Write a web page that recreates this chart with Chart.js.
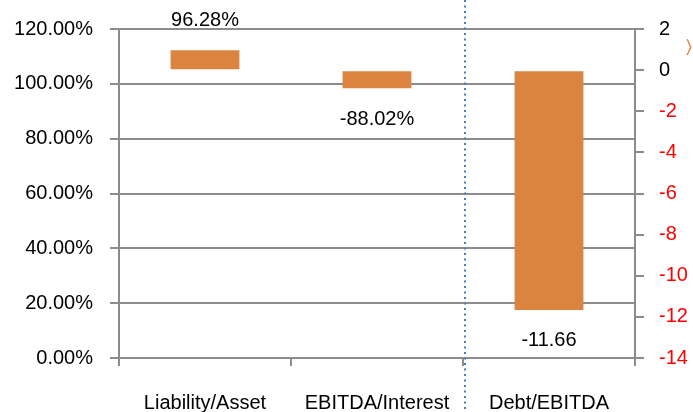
<!DOCTYPE html>
<html>
<head>
<meta charset="utf-8">
<script src="https://cdn.jsdelivr.net/npm/chart.js@4.4.0/dist/chart.umd.min.js"></script>
<style>
  html, body { margin: 0; padding: 0; background: #fff; }
  #wrap { width: 693px; height: 412px; }
</style>
</head>
<body>
<div id="wrap"><canvas id="ratioChart" width="693" height="412"></canvas></div>
<script>
// Kennzahlen (rechte Achse), linke Achse ist nur Prozentskala
const categories = ["Liability/Asset", "EBITDA/Interest", "Debt/EBITDA"];
const ratioValues = [0.9628, -0.8802, -11.66];
const valueLabels = ["96.28%", "-88.02%", "-11.66"];
const leftTicks = [0, 20, 40, 60, 80, 100, 120];
const rightTicks = [-14, -12, -10, -8, -6, -4, -2, 0, 2];

const FONT = "'Liberation Sans', Arial, sans-serif";
const GRID = "#8c8c8c";

// Datenbeschriftungen + gepunktete Trennlinie
const extrasPlugin = {
    id: "extras",
    afterDatasetsDraw(chart) {
        const ctx = chart.ctx;
        const meta = chart.getDatasetMeta(0);
        ctx.save();
        ctx.font = "20px " + FONT;
        ctx.fillStyle = "#000";
        ctx.textAlign = "center";
        ctx.textBaseline = "middle";
        meta.data.forEach((bar, i) => {
            const v = ratioValues[i];
            const y = v >= 0 ? bar.y - 30 : bar.y + 31;
            ctx.fillText(valueLabels[i], bar.x, y);
        });

        // vertikale Linie zwischen 2. und 3. Kategorie
        const xs = chart.scales.x;
        const xLine = Math.round((xs.getPixelForValue(1) + xs.getPixelForValue(2)) / 2) + 2;
        ctx.strokeStyle = "#4a7ebb";
        ctx.lineWidth = 2;
        ctx.setLineDash([2, 3.5]);
        ctx.beginPath();
        ctx.moveTo(xLine, 0);
        ctx.lineTo(xLine, chart.height);
        ctx.stroke();
        ctx.setLineDash([]);

        // abgeschnittene Legendenmarke am rechten Rand
        ctx.fillStyle = "#e07b39";
        ctx.font = "18px " + FONT;
        ctx.textAlign = "left";
        ctx.fillText("\u232A", 686, 48);
        ctx.restore();
    }
};

const ctx = document.getElementById("ratioChart").getContext("2d");
const ratioChart = new Chart(ctx, {
    type: "bar",
    data: {
        labels: categories,
        datasets: [{
            data: ratioValues,
            yAxisID: "y1",
            backgroundColor: "#db843f",
            borderWidth: 0,
            categoryPercentage: 1,
            barPercentage: 0.4
        }]
    },
    options: {
        responsive: false,
        animation: false,
        layout: { padding: { top: 28, left: 0, right: 0, bottom: 0 } },
        plugins: {
            legend: { display: false },
            tooltip: { enabled: false }
        },
        scales: {
            x: {
                grid: {
                    offset: true,
                    drawOnChartArea: false,
                    color: GRID,
                    lineWidth: 2,
                    tickLength: 8
                },
                border: { display: false },
                ticks: {
                    color: "#000",
                    padding: 25,
                    font: { family: FONT, size: 20 },
                    maxRotation: 0
                },
                afterFit(scale) { scale.height = 54; }
            },
            y: {
                position: "left",
                min: 0,
                max: 120,
                afterBuildTicks(scale) { scale.ticks = leftTicks.map(v => ({ value: v })); },
                grid: { color: GRID, lineWidth: 2, tickLength: 9 },
                border: { color: GRID, width: 2 },
                ticks: {
                    color: "#000",
                    padding: 17,
                    font: { family: FONT, size: 20 },
                    callback: v => v.toFixed(2) + "%"
                },
                afterFit(scale) { scale.width = 119; }
            },
            y1: {
                position: "right",
                min: -14,
                max: 2,
                afterBuildTicks(scale) { scale.ticks = rightTicks.map(v => ({ value: v })); },
                grid: { drawOnChartArea: false, color: GRID, lineWidth: 2, tickLength: 9 },
                border: { color: GRID, width: 2 },
                ticks: {
                    padding: 15,
                    font: { family: FONT, size: 20 },
                    color: c => (c.tick && c.tick.value < 0 ? "#ff0000" : "#000"),
                    callback: v => String(v)
                },
                afterFit(scale) { scale.width = 58; }
            }
        }
    },
    plugins: [extrasPlugin]
});
</script>
</body>
</html>
